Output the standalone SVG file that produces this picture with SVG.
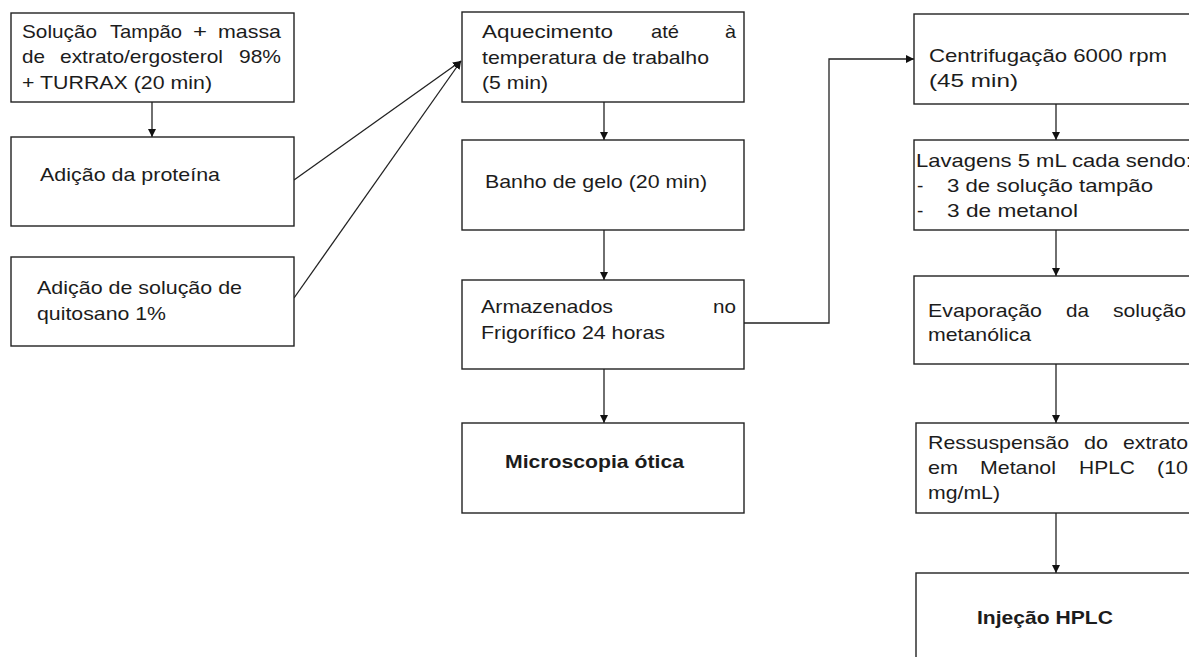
<svg xmlns="http://www.w3.org/2000/svg" width="1189" height="657" viewBox="0 0 1189 657">
<style>
.box{fill:#fff;stroke:#222;stroke-width:1.4}
.t{font-family:"Liberation Sans",Arial,sans-serif;font-size:19px;fill:#1c1c1c}
.b{font-weight:bold}
.c{fill:none;stroke:#222;stroke-width:1.3}
</style>
<defs>
<marker id="ah" viewBox="0 0 10 10" refX="10" refY="5" markerWidth="8" markerHeight="8" markerUnits="userSpaceOnUse" orient="auto">
<path d="M0,0 L10,5 L0,10 z" fill="#111"/>
</marker>
</defs>
<rect width="1189" height="657" fill="#fff"/>

<g id="connectors">
<line class="c" x1="152" y1="102" x2="152" y2="137" marker-end="url(#ah)"/>
<line class="c" x1="294" y1="180" x2="461" y2="61" marker-end="url(#ah)"/>
<line class="c" x1="294" y1="298" x2="461" y2="61" marker-end="url(#ah)"/>
<line class="c" x1="604" y1="102" x2="604" y2="140" marker-end="url(#ah)"/>
<line class="c" x1="604" y1="230" x2="604" y2="280" marker-end="url(#ah)"/>
<line class="c" x1="604" y1="369" x2="604" y2="423" marker-end="url(#ah)"/>
<polyline class="c" points="744,323 829,323 829,59 914,59" marker-end="url(#ah)"/>
<line class="c" x1="1056" y1="104" x2="1056" y2="140" marker-end="url(#ah)"/>
<line class="c" x1="1056" y1="230" x2="1056" y2="276" marker-end="url(#ah)"/>
<line class="c" x1="1056" y1="364" x2="1056" y2="423" marker-end="url(#ah)"/>
<line class="c" x1="1056" y1="513" x2="1056" y2="573" marker-end="url(#ah)"/>
</g>

<g id="n1">
<rect class="box" x="11" y="13" width="283" height="89"/>
<text class="t" x="22" y="38" textLength="75" lengthAdjust="spacingAndGlyphs">Solução</text>
<text class="t" x="110" y="38" textLength="72" lengthAdjust="spacingAndGlyphs">Tampão</text>
<text class="t" x="193" y="38" textLength="14" lengthAdjust="spacingAndGlyphs">+</text>
<text class="t" x="218" y="38" textLength="63" lengthAdjust="spacingAndGlyphs">massa</text>
<text class="t" x="22" y="63" textLength="23" lengthAdjust="spacingAndGlyphs">de</text>
<text class="t" x="60" y="63" textLength="163" lengthAdjust="spacingAndGlyphs">extrato/ergosterol</text>
<text class="t" x="239" y="63" textLength="42" lengthAdjust="spacingAndGlyphs">98%</text>
<text class="t" x="22" y="89" textLength="190" lengthAdjust="spacingAndGlyphs">+ TURRAX (20 min)</text>
</g>

<g id="n2">
<rect class="box" x="11" y="137" width="283" height="89"/>
<text class="t" x="40" y="181" textLength="180" lengthAdjust="spacingAndGlyphs">Adição da proteína</text>
</g>

<g id="n3">
<rect class="box" x="11" y="257" width="283" height="89"/>
<text class="t" x="37" y="294" textLength="205" lengthAdjust="spacingAndGlyphs">Adição de solução de</text>
<text class="t" x="37" y="320" textLength="129" lengthAdjust="spacingAndGlyphs">quitosano 1%</text>
</g>

<g id="n4">
<rect class="box" x="462" y="12" width="282" height="90"/>
<text class="t" x="482" y="38" textLength="131" lengthAdjust="spacingAndGlyphs">Aquecimento</text>
<text class="t" x="651" y="38" textLength="28" lengthAdjust="spacingAndGlyphs">até</text>
<text class="t" x="725" y="38" textLength="11" lengthAdjust="spacingAndGlyphs">à</text>
<text class="t" x="482" y="64" textLength="227" lengthAdjust="spacingAndGlyphs">temperatura de trabalho</text>
<text class="t" x="482" y="89" textLength="66" lengthAdjust="spacingAndGlyphs">(5 min)</text>
</g>

<g id="n5">
<rect class="box" x="462" y="140" width="282" height="90"/>
<text class="t" x="485" y="188" textLength="222" lengthAdjust="spacingAndGlyphs">Banho de gelo (20 min)</text>
</g>

<g id="n6">
<rect class="box" x="462" y="280" width="282" height="89"/>
<text class="t" x="481" y="313" textLength="132" lengthAdjust="spacingAndGlyphs">Armazenados</text>
<text class="t" x="713" y="313" textLength="23" lengthAdjust="spacingAndGlyphs">no</text>
<text class="t" x="481" y="339" textLength="184" lengthAdjust="spacingAndGlyphs">Frigorífico 24 horas</text>
</g>

<g id="n7">
<rect class="box" x="462" y="423" width="282" height="90"/>
<text class="t b" x="505" y="468" textLength="179" lengthAdjust="spacingAndGlyphs">Microscopia ótica</text>
</g>

<g id="n8">
<rect class="box" x="914" y="14" width="290" height="90"/>
<text class="t" x="929" y="62" textLength="238" lengthAdjust="spacingAndGlyphs">Centrifugação 6000 rpm</text>
<text class="t" x="929" y="87" textLength="89" lengthAdjust="spacingAndGlyphs">(45 min)</text>
</g>

<g id="n9">
<rect class="box" x="914" y="140" width="290" height="90"/>
<text class="t" x="916" y="167" textLength="276" lengthAdjust="spacingAndGlyphs">Lavagens 5 mL cada sendo:</text>
<text class="t" x="917" y="192">-</text>
<text class="t" x="947" y="192" textLength="206" lengthAdjust="spacingAndGlyphs">3 de solução tampão</text>
<text class="t" x="917" y="217">-</text>
<text class="t" x="947" y="217" textLength="131" lengthAdjust="spacingAndGlyphs">3 de metanol</text>
</g>

<g id="n10">
<rect class="box" x="914" y="276" width="290" height="88"/>
<text class="t" x="928" y="317" textLength="114" lengthAdjust="spacingAndGlyphs">Evaporação</text>
<text class="t" x="1066" y="317" textLength="23" lengthAdjust="spacingAndGlyphs">da</text>
<text class="t" x="1113" y="317" textLength="73" lengthAdjust="spacingAndGlyphs">solução</text>
<text class="t" x="928" y="341" textLength="103" lengthAdjust="spacingAndGlyphs">metanólica</text>
</g>

<g id="n11">
<rect class="box" x="916" y="423" width="290" height="90"/>
<text class="t" x="928" y="449" textLength="141" lengthAdjust="spacingAndGlyphs">Ressuspensão</text>
<text class="t" x="1084" y="449" textLength="24" lengthAdjust="spacingAndGlyphs">do</text>
<text class="t" x="1123" y="449" textLength="65" lengthAdjust="spacingAndGlyphs">extrato</text>
<text class="t" x="928" y="474" textLength="30" lengthAdjust="spacingAndGlyphs">em</text>
<text class="t" x="980" y="474" textLength="76" lengthAdjust="spacingAndGlyphs">Metanol</text>
<text class="t" x="1079" y="474" textLength="56" lengthAdjust="spacingAndGlyphs">HPLC</text>
<text class="t" x="1157" y="474" textLength="31" lengthAdjust="spacingAndGlyphs">(10</text>
<text class="t" x="928" y="499" textLength="72" lengthAdjust="spacingAndGlyphs">mg/mL)</text>
</g>

<g id="n12">
<rect class="box" x="916" y="573" width="290" height="100"/>
<text class="t b" x="977" y="624" textLength="136" lengthAdjust="spacingAndGlyphs">Injeção HPLC</text>
</g>
</svg>
